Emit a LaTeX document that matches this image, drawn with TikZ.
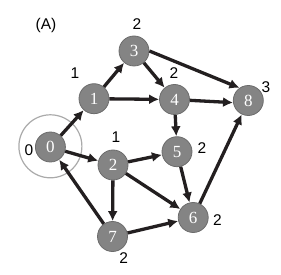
\documentclass[tikz,border=0pt]{standalone}
\usepackage{fontspec}
\setmainfont{Liberation Sans}
\newfontfamily\vertfont{Liberation Serif}
\definecolor{edgeblack}{RGB}{35,31,32}
\definecolor{vertgray}{RGB}{132,132,132}
\definecolor{rimgray}{RGB}{108,108,108}
\definecolor{ringgray}{RGB}{170,170,170}
\usetikzlibrary{arrows.meta}

\begin{document}
\begin{tikzpicture}[x=1pt, y=-1pt,
      arr/.style={-{Latex[length=10pt,width=10pt]}, line width=3.3pt, edgeblack},
      vert/.style={circle, draw=rimgray, fill=vertgray, line width=0.8pt,
                   minimum size=30pt, inner sep=0pt, text=white,
                   font=\vertfont\fontsize{17}{17}\selectfont},
      dist/.style={inner sep=0pt, font=\fontsize{15.5}{15.5}\selectfont}
    ]
    \useasboundingbox (0,0) rectangle (281,275);
    % ring round the source
    \node[circle, draw=ringgray, line width=1.2pt, minimum size=63pt,
          inner sep=0pt] (ring) at (50.4,146.3) {};
    % vertices
    \node[vert] (v0) at (50.4,147) {0};
    \node[vert] (v1) at (94,98.7) {1};
    \node[vert] (v2) at (113,165) {2};
    \node[vert] (v3) at (134,51) {3};
    \node[vert] (v4) at (174.5,99.5) {4};
    \node[vert] (v5) at (177,151.7) {5};
    \node[vert] (v6) at (193.2,217.5) {6};
    \node[vert] (v7) at (112.5,236.5) {7};
    \node[vert] (v8) at (248.3,100.5) {8};
    % distances
    \node[dist] (title) at (46,25.5) {(A)};
    \node[dist] (d0) at (29,150.5) {0};
    \node[dist] (d1) at (75,73) {1};
    \node[dist] (d2) at (116,137.5) {1};
    \node[dist] (d3) at (137,24) {2};
    \node[dist] (d4) at (174,73.5) {2};
    \node[dist] (d5) at (202,148.5) {2};
    \node[dist] (d6) at (217.5,220.5) {2};
    \node[dist] (d7) at (123.8,258.3) {2};
    \node[dist] (d8) at (266,87) {3};
    % edges
    \draw[arr] (v0) -- (v1);
    \draw[arr] (v0) -- (v2);
    \draw[arr] (v1) -- (v3);
    \draw[arr] (v1) -- (v4);
    \draw[arr] (v3) -- (v4);
    \draw[arr] (v3.east) -- (v8.125);
    \draw[arr] (v4) -- (v8.188);
    \draw[arr] (v4) -- (v5);
    \draw[arr] (v2) -- (v5);
    \draw[arr] (v2) -- (v6);
    \draw[arr] (v2) -- (v7);
    \draw[arr] (v5) -- (v6);
    \draw[arr] (v7) -- (v6);
    \draw[arr] (v7) -- (v0);
    \draw[arr] (v6) -- (v8);
  \end{tikzpicture}
\end{document}
